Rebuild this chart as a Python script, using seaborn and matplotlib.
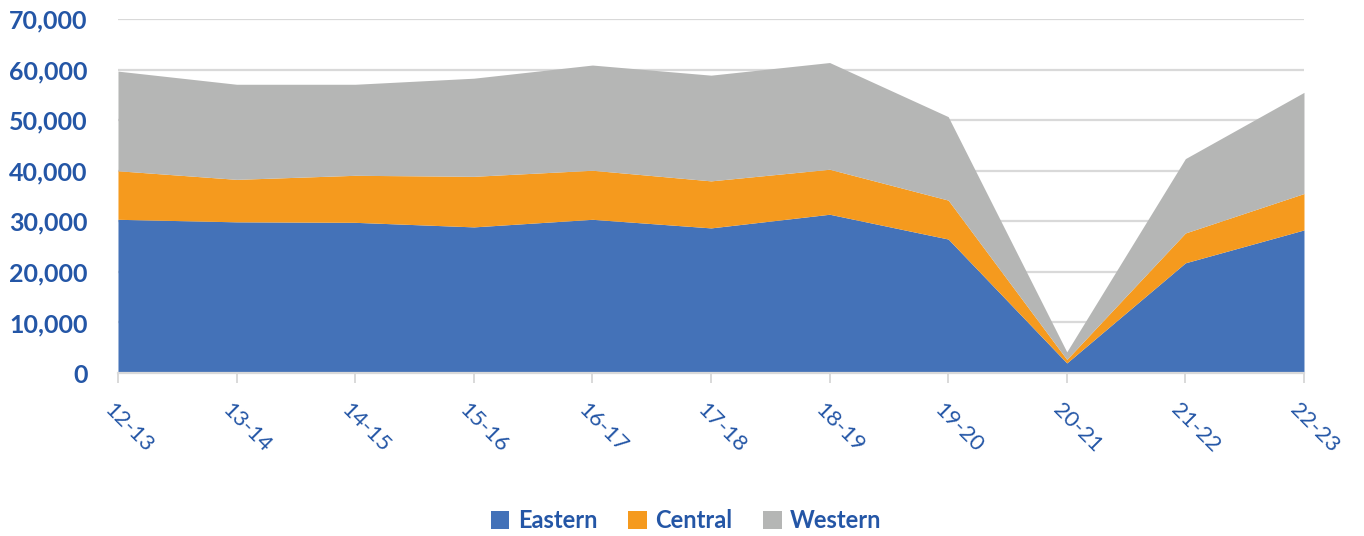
import matplotlib
matplotlib.use("Agg")
import matplotlib.pyplot as plt
import matplotlib.transforms as mtransforms
import seaborn as sns
import pandas as pd
from matplotlib.patches import Patch

years = ["12-13", "13-14", "14-15", "15-16", "16-17", "17-18",
         "18-19", "19-20", "20-21", "21-22", "22-23"]
eastern = [30400, 29900, 29800, 28900, 30400, 28700, 31400, 26500, 2000, 21800, 28300]
central = [9600, 8400, 9300, 10000, 9700, 9300, 8900, 7700, 700, 5900, 7200]
western = [19700, 18800, 18000, 19400, 20800, 20900, 21100, 16500, 1500, 14700, 20000]
regions = ["Eastern", "Central", "Western"]
colors = ["#4472B8", "#F59A1E", "#B5B6B5"]
text_blue = "#2456A6"

df = pd.DataFrame({"year": years, "Eastern": eastern,
                   "Central": central, "Western": western})

sns.set_theme(style="white")
plt.rcParams["font.family"] = ["Lato", "DejaVu Sans"]

fig = plt.figure(figsize=(13.64, 5.36), dpi=100)
ax = fig.add_axes([0.0865, 0.304, 0.8695, 0.6605])

x = list(range(len(years)))
ax.stackplot(x, [df[r] for r in regions], colors=colors, linewidth=0, zorder=2)

ax.set_xlim(0, len(years) - 1)
ax.set_ylim(0, 70000)
ax.set_yticks(range(0, 70001, 10000))
ax.set_yticklabels([f"{v:,}" for v in range(0, 70001, 10000)],
                   color=text_blue, fontsize=18, fontweight="bold")
ax.yaxis.grid(True, color="#D9D9D9", linewidth=1.6, zorder=0)
ax.set_axisbelow(True)

ax.set_xticks(x)
ax.set_xticklabels(years, rotation=-45, ha="left", va="center",
                   rotation_mode="anchor", color=text_blue, fontsize=16)
ax.tick_params(axis="x", which="major", length=7, width=1.4,
               color="#D9D9D9", direction="out", pad=17, bottom=True)
ax.tick_params(axis="y", length=0, pad=22)

# nudge the slanted year labels so each one starts just left of its tick
shift = mtransforms.ScaledTranslation(-11 / 100, 0, fig.dpi_scale_trans)
for lbl in ax.get_xticklabels():
    lbl.set_transform(lbl.get_transform() + shift)

for side in ["top", "right", "left"]:
    ax.spines[side].set_visible(False)
ax.spines["bottom"].set_color("#D9D9D9")
ax.spines["bottom"].set_linewidth(1.6)

handles = [Patch(facecolor=c, edgecolor="none") for c in colors]
leg = fig.legend(handles, regions, loc="center", bbox_to_anchor=(0.503, 0.028),
                 ncol=3, frameon=False, fontsize=17, handlelength=0.8,
                 handleheight=0.8, handletextpad=0.35, columnspacing=1.3)
for t in leg.get_texts():
    t.set_color(text_blue)
    t.set_fontweight("bold")

ax.set_xlabel("")
ax.set_ylabel("")
fig.savefig("out.png", dpi=100)
